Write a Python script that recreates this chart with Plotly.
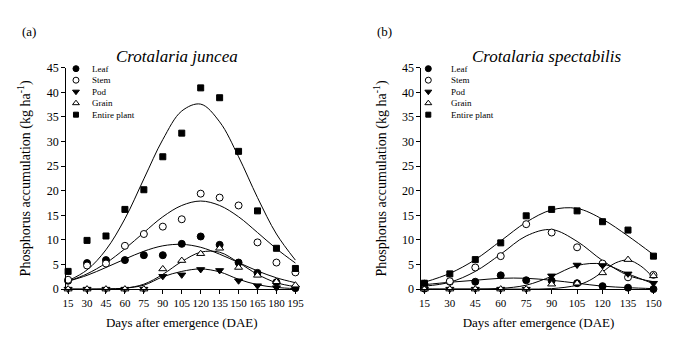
import plotly.graph_objects as go

# ---------------- data: panel (a) Crotalaria juncea ----------------
days_a = [15, 30, 45, 60, 75, 90, 105, 120, 135, 150, 165, 180, 195]
leaf_a = [1.7, 5.3, 5.9, 5.9, 6.9, 6.9, 9.2, 10.7, 9.0, 5.4, 3.3, 1.4, 0.2]
stem_a = [1.9, 4.8, 5.2, 8.8, 11.2, 12.7, 14.2, 19.4, 18.6, 17.0, 9.5, 5.4, 3.4]
pod_a = [0, 0, 0, 0, 0, 2.6, 2.9, 4.0, 3.8, 1.7, 0.7, 0.3, 0.2]
grain_a = [0, 0, 0, 0, 0, 4.1, 5.8, 7.2, 8.3, 4.4, 2.8, 1.5, 0.8]
entire_a = [3.6, 9.9, 10.8, 16.2, 20.2, 26.9, 31.7, 40.9, 38.9, 28.0, 15.9, 8.3, 4.2]

# fitted curves (panel a)
fit_entire_a = [1.7, 3.9, 8.0, 14.3, 22.4, 30.4, 36.2, 37.6, 34.0, 26.9, 18.6, 11.2, 5.9]
fit_stem_a = [1.6, 3.1, 5.3, 8.2, 11.5, 14.7, 17.0, 17.9, 17.0, 14.7, 11.5, 8.2, 5.3]
fit_leaf_a = [1.6, 2.8, 4.4, 6.1, 7.7, 8.8, 9.1, 8.5, 7.1, 5.4, 3.7, 2.3, 1.3]
fit_grain_a = [0, 0, 0.05, 0.2, 1.0, 3.0, 5.6, 7.5, 7.5, 5.4, 3.0, 1.3, 0.5]
fit_pod_a = [0, 0, 0, 0.2, 0.8, 2.5, 3.6, 4.1, 3.5, 2.0, 0.9, 0.35, 0.1]

# ---------------- data: panel (b) Crotalaria spectabilis ----------------
days_b = [15, 30, 45, 60, 75, 90, 105, 120, 135, 150]
leaf_b = [1.1, 1.5, 1.5, 2.8, 1.8, 1.7, 1.2, 0.6, 0.3, 0.0]
stem_b = [0.1, 1.6, 4.4, 6.7, 13.2, 11.5, 8.5, 5.2, 2.4, 2.9]
pod_b = [0, 0, 0, 0, 0, 2.7, 4.9, 4.8, 3.1, 1.2]
grain_b = [0, 0, 0, 0, 0, 1.0, 1.2, 3.3, 6.0, 2.7]
entire_b = [1.2, 3.1, 6.0, 9.4, 14.9, 16.2, 15.9, 13.7, 12.0, 6.7]

fit_entire_b = [1.4, 3.2, 6.0, 9.8, 13.6, 16.1, 16.4, 14.2, 10.8, 7.0]
fit_stem_b = [0.6, 1.4, 3.6, 7.1, 10.8, 12.1, 9.7, 5.8, 2.8, 1.5]
fit_leaf_b = [0.9, 1.4, 1.8, 2.2, 2.2, 1.8, 1.2, 0.6, 0.3, 0.1]
fit_pod_b = [0, 0, 0, 0.15, 0.8, 2.6, 4.8, 5.1, 3.1, 1.1]
fit_grain_x_b = [15, 30, 45, 60, 75, 90, 105, 112.5, 120, 127.5, 135, 142.5, 150]
fit_grain_b = [0, 0, 0, 0, 0, 0.1, 0.8, 1.8, 3.5, 5.3, 5.9, 4.7, 2.3]

series_names = ["Leaf", "Stem", "Pod", "Grain", "Entire plant"]
titles = ["Crotalaria juncea", "Crotalaria spectabilis"]
panel_labels = ["(a)", "(b)"]

# ---------------- styles ----------------
FONT = "Liberation Serif, Times New Roman, serif"
W, H = 696, 337
styles = {
    "Leaf": dict(symbol="circle", size=7, color="black", line=dict(color="black", width=1)),
    "Stem": dict(symbol="circle", size=7, color="white", line=dict(color="black", width=1)),
    "Pod": dict(symbol="triangle-down", size=7, color="black", line=dict(color="black", width=1)),
    "Grain": dict(symbol="triangle-up", size=7, color="white", line=dict(color="black", width=1)),
    "Entire plant": dict(symbol="square", size=6, color="black", line=dict(color="black", width=1)),
}

fig = go.Figure()

panels = [
    dict(xa="x", ya="y", days=days_a,
         data={"Leaf": leaf_a, "Stem": stem_a, "Pod": pod_a, "Grain": grain_a, "Entire plant": entire_a},
         fits=[(days_a, fit_entire_a), (days_a, fit_stem_a), (days_a, fit_leaf_a),
               (days_a, fit_grain_a), (days_a, fit_pod_a)]),
    dict(xa="x2", ya="y2", days=days_b,
         data={"Leaf": leaf_b, "Stem": stem_b, "Pod": pod_b, "Grain": grain_b, "Entire plant": entire_b},
         fits=[(days_b, fit_entire_b), (days_b, fit_stem_b), (days_b, fit_leaf_b),
               (fit_grain_x_b, fit_grain_b), (days_b, fit_pod_b)]),
]

for p in panels:
    for fx, fy in p["fits"]:
        fig.add_trace(go.Scatter(x=fx, y=fy, mode="lines", xaxis=p["xa"], yaxis=p["ya"],
                                 line=dict(color="black", width=1, shape="spline", smoothing=1.0),
                                 showlegend=False, hoverinfo="skip"))
    for name in series_names:
        st = styles[name]
        fig.add_trace(go.Scatter(x=p["days"], y=p["data"][name], mode="markers",
                                 xaxis=p["xa"], yaxis=p["ya"], cliponaxis=False,
                                 marker=dict(symbol=st["symbol"], size=st["size"], color=st["color"],
                                             line=st["line"]),
                                 name=name, showlegend=False))

# ---------------- hand-built legends (overlay axis in pixel units) ----------------
leg_rows_y = [56, 68, 80, 92, 104]
leg_marker_x = [65, 423]
leg_text_x = [79, 444]
for k in range(2):
    for i, name in enumerate(series_names):
        st = styles[name]
        fig.add_trace(go.Scatter(x=[leg_marker_x[k]], y=[leg_rows_y[i]], mode="markers",
                                 xaxis="x3", yaxis="y3", cliponaxis=False,
                                 marker=dict(symbol=st["symbol"], size=st["size"] - 1, color=st["color"],
                                             line=st["line"]),
                                 showlegend=False, hoverinfo="skip"))
        fig.add_annotation(x=leg_text_x[k] / W, y=1 - leg_rows_y[i] / H, xref="paper", yref="paper",
                           text=name, showarrow=False, xanchor="left", yanchor="middle",
                           font=dict(family=FONT, size=9, color="black"))

axis_common = dict(showline=True, linecolor="black", linewidth=1, ticks="outside", ticklen=4,
                   tickwidth=1, tickcolor="black", showgrid=False, zeroline=False)
ytick_font = dict(family=FONT, size=12, color="black")
xtick_font = dict(family=FONT, size=11, color="black")
ydom = [(H - 286) / H, (H - 55) / H]
xtitle_font = dict(family=FONT, size=13, color="black")
ytitle_font = dict(family=FONT, size=14, color="black")
fig.update_layout(
    width=W, height=H, margin=dict(l=0, r=0, t=0, b=0),
    paper_bgcolor="white", plot_bgcolor="rgba(0,0,0,0)", showlegend=False,
    xaxis=dict(domain=[55 / W, 290 / W], range=[13.44, 196.6], tickvals=days_a, tickangle=0,
               tickfont=xtick_font,
               title=dict(text="Days after emergence (DAE)", font=xtitle_font, standoff=9),
               anchor="y", **axis_common),
    yaxis=dict(domain=ydom, range=[0, 45], dtick=5, anchor="x", tickfont=ytick_font,
               title=dict(text="Phosphorus accumulation (kg ha<sup>-1</sup>)", font=ytitle_font,
                          standoff=12), **axis_common),
    xaxis2=dict(domain=[416 / W, 654 / W], range=[13.26, 151.3], tickvals=days_b, tickangle=0,
                tickfont=xtick_font,
                title=dict(text="Days after emergence (DAE)", font=xtitle_font, standoff=9),
                anchor="y2", **axis_common),
    yaxis2=dict(domain=ydom, range=[0, 45], dtick=5, anchor="x2", tickfont=ytick_font,
                title=dict(text="Phosphorus accumulation (kg ha<sup>-1</sup>)", font=ytitle_font,
                           standoff=12), **axis_common),
    xaxis3=dict(domain=[0, 1], range=[0, W], visible=False, fixedrange=True, anchor="y3"),
    yaxis3=dict(domain=[0, 1], range=[H, 0], visible=False, fixedrange=True, anchor="x3"),
)

# titles and panel labels
title_x = [168, 543]
for k in range(2):
    fig.add_annotation(x=title_x[k] / W, y=1 - 43 / H, xref="paper", yref="paper",
                       text="<i>" + titles[k] + "</i>", showarrow=False, xanchor="center", yanchor="middle",
                       font=dict(family=FONT, size=17, color="black"))
label_x = [17, 378]
for k in range(2):
    fig.add_annotation(x=label_x[k] / W, y=1 - 17 / H, xref="paper", yref="paper",
                       text=panel_labels[k], showarrow=False, xanchor="center", yanchor="middle",
                       font=dict(family=FONT, size=13, color="black"))

fig.write_html("out.html")
